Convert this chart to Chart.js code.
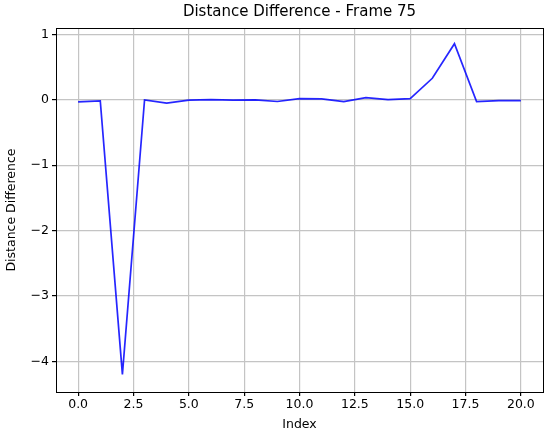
<!DOCTYPE html>
<html>
<head>
<meta charset="utf-8">
<script src="https://cdn.jsdelivr.net/npm/chart.js@4.4.1/dist/chart.umd.min.js"></script>
<style>
    html, body { margin: 0; padding: 0; background: #fff; }
    #wrap { width: 550px; height: 435px; }
</style>
</head>
<body>
<div id="wrap"><canvas id="chart" width="550" height="435"></canvas></div>
<script>
const indices = [0, 1, 2, 3, 4, 5, 6, 7, 8, 9, 10, 11, 12, 13, 14, 15, 16, 17, 18, 19, 20];
const distanceDiff = [-0.03, -0.015, -4.2, 0.0, -0.05, -0.005, 0.005, -0.005, 0.0, -0.025,
    0.02, 0.015, -0.025, 0.035, 0.005, 0.02, 0.33, 0.86, -0.025, -0.01, -0.01];
const xTicks = [0, 2.5, 5, 7.5, 10, 12.5, 15, 17.5, 20];
const yTicks = [-4, -3, -2, -1, 0, 1];

const FONT = 'DejaVu Sans';

// frame around the plot area + title centred over it
const framePlugin = {
    id: 'frame',
    afterDraw(chart) {
        const { ctx, chartArea: a } = chart;
        ctx.save();
        ctx.strokeStyle = '#000';
        ctx.lineWidth = 1;
        ctx.strokeRect(Math.round(a.left) + 0.5, Math.round(a.top) + 0.5,
            Math.round(a.right - a.left), Math.round(a.bottom - a.top));
        ctx.fillStyle = '#000';
        ctx.font = '15px "' + FONT + '"';
        ctx.textAlign = 'center';
        ctx.textBaseline = 'middle';
        ctx.fillText('Distance Difference - Frame 75', (a.left + a.right) / 2, 12);
        ctx.restore();
    }
};

new Chart(document.getElementById('chart'), {
    type: 'line',
    data: {
        datasets: [{
            data: indices.map((x, i) => ({ x: x, y: distanceDiff[i] })),
            borderColor: 'rgba(0, 0, 255, 0.85)',
            borderWidth: 1.7,
            pointRadius: 0,
            tension: 0,
            fill: false
        }]
    },
    options: {
        responsive: false,
        animation: false,
        layout: { padding: { top: 28, right: 7, left: 0, bottom: 0 } },
        plugins: { legend: { display: false }, tooltip: { enabled: false }, title: { display: false } },
        scales: {
            x: {
                type: 'linear',
                min: -1.0,
                max: 21.0,
                afterBuildTicks: s => { s.ticks = xTicks.map(v => ({ value: v })); },
                afterFit: s => { s.height = 43; },
                ticks: {
                    callback: v => v.toFixed(1),
                    color: '#000',
                    font: { family: FONT, size: 12.5 },
                    padding: 1,
                    maxRotation: 0
                },
                grid: { color: '#c4c4c4', lineWidth: 1.2, tickColor: '#000', tickLength: 4 },
                border: { display: true, color: '#000' },
                title: {
                    display: true,
                    text: 'Index',
                    color: '#000',
                    font: { family: FONT, size: 12.5 },
                    padding: { top: 0, bottom: 3 }
                }
            },
            y: {
                type: 'linear',
                min: -4.47,
                max: 1.1,
                afterBuildTicks: s => { s.ticks = yTicks.map(v => ({ value: v })); },
                afterFit: s => { s.width = 56; },
                ticks: {
                    callback: v => (v < 0 ? '\u2212' + Math.abs(v) : String(v)),
                    color: '#000',
                    font: { family: FONT, size: 12.5 },
                    padding: 3
                },
                grid: { color: '#c4c4c4', lineWidth: 1.2, tickColor: '#000', tickLength: 4 },
                border: { display: true, color: '#000' },
                title: {
                    display: true,
                    text: 'Distance Difference',
                    color: '#000',
                    font: { family: FONT, size: 12.5 },
                    padding: { top: 4, bottom: 0 }
                }
            }
        }
    },
    plugins: [framePlugin]
});
</script>
</body>
</html>
